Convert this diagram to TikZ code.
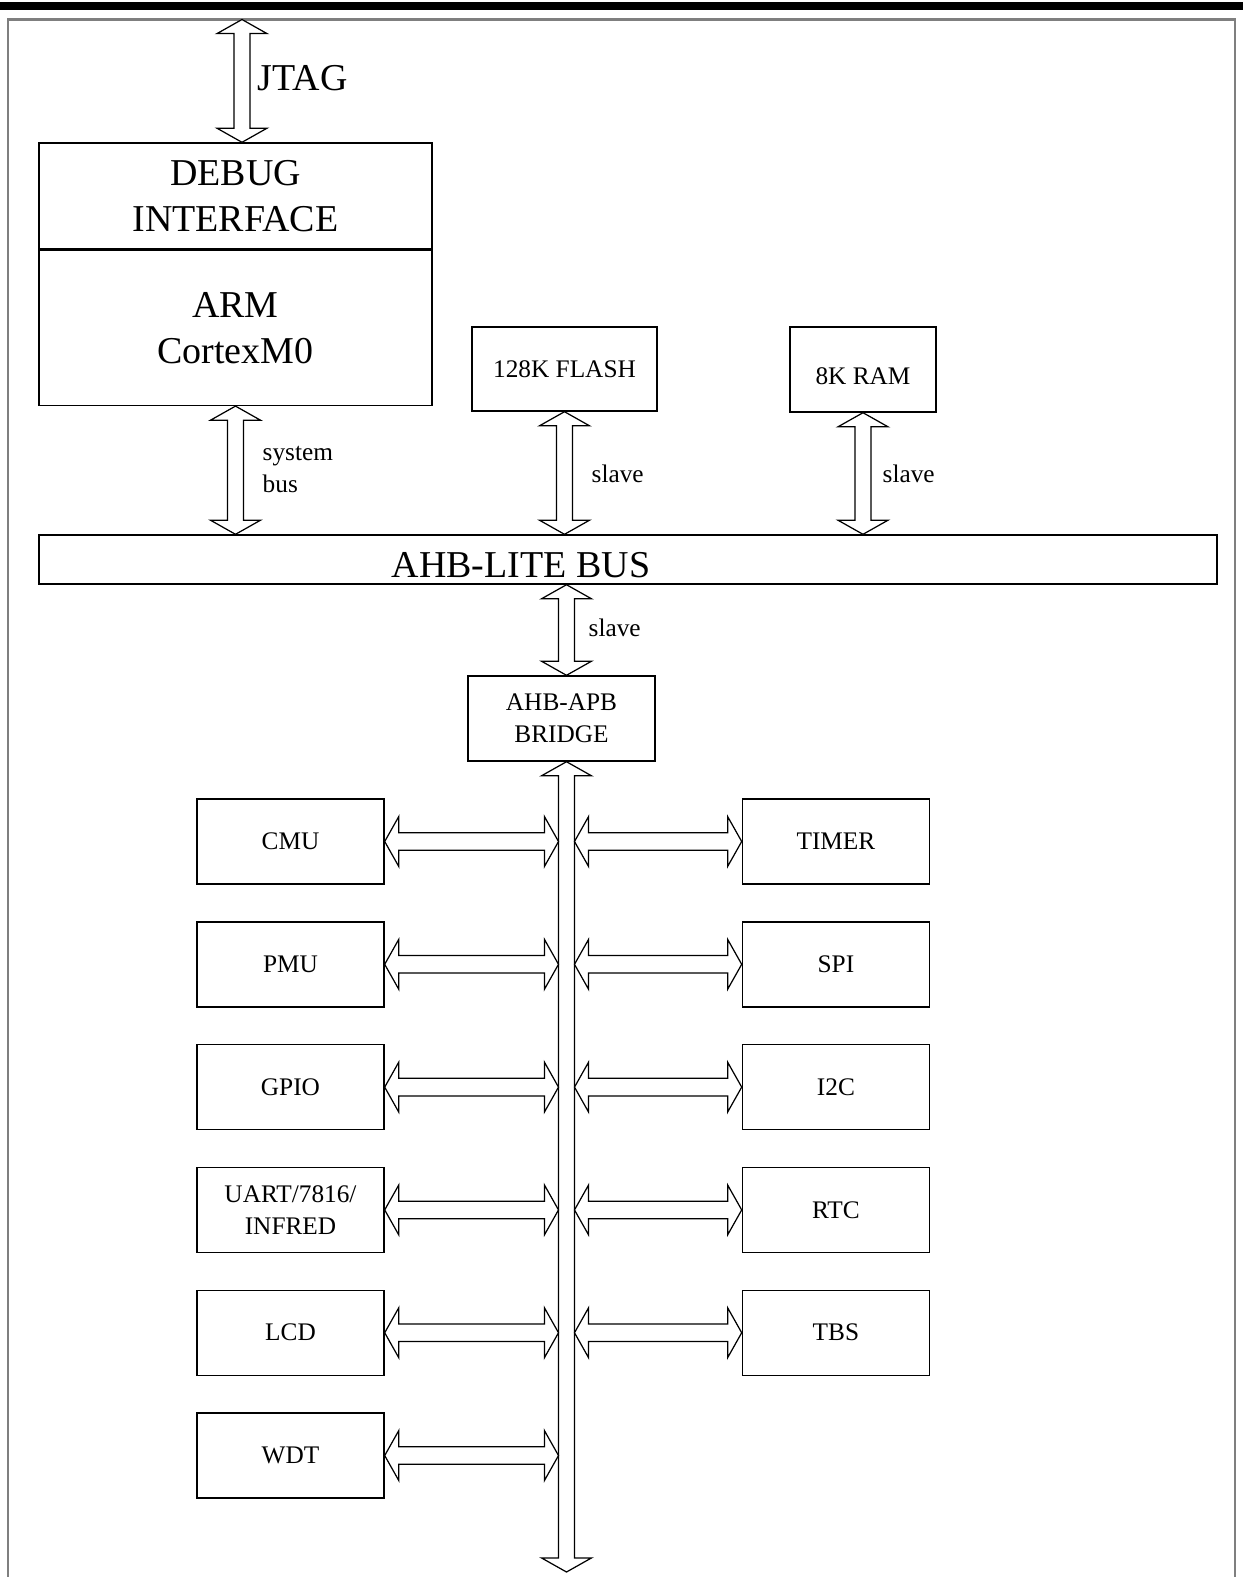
\documentclass[tikz,border=0pt]{standalone}
\usepackage{fontspec}
\setmainfont{Liberation Serif}
\usepackage{xcolor}
\usepackage{tikz}
\usetikzlibrary{calc, positioning}
\tikzset{>=stealth}
\definecolor{framegray}{HTML}{7F7F7F}
\newcommand{\arrhw}{7.1pt}
\newcommand{\arrhl}{4pt}
\newcommand{\arrsv}{2.3pt}
\newcommand{\arrsh}{2.5pt}
\newcommand{\vbus}[2]{\draw[bus] let \p1=(#1), \p2=(#2) in
	(\x1,\y1) -- (\x1+\arrhw,\y1-\arrhl) -- (\x1+\arrsv,\y1-\arrhl) -- (\x1+\arrsv,\y2+\arrhl) -- (\x1+\arrhw,\y2+\arrhl) -- (\x1,\y2)
	-- (\x1-\arrhw,\y2+\arrhl) -- (\x1-\arrsv,\y2+\arrhl) -- (\x1-\arrsv,\y1-\arrhl) -- (\x1-\arrhw,\y1-\arrhl) -- cycle;}
\newcommand{\hbus}[2]{\draw[bus] let \p1=(#1), \p2=(#2) in
	(\x1,\y1) -- (\x1+\arrhl,\y1+\arrhw) -- (\x1+\arrhl,\y1+\arrsh) -- (\x2-\arrhl,\y1+\arrsh) -- (\x2-\arrhl,\y1+\arrhw) -- (\x2,\y1)
	-- (\x2-\arrhl,\y1-\arrhw) -- (\x2-\arrhl,\y1-\arrsh) -- (\x1+\arrhl,\y1-\arrsh) -- (\x1+\arrhl,\y1-\arrhw) -- cycle;}
\tikzset{
	blk/.style={draw, rectangle, inner sep=0pt, align=center, line width=0.4pt},
	per/.style={blk, smalltxt, minimum width=1.87cm, minimum height=0.85cm},
	bigtxt/.style={font=\fontsize{10.8}{13}\selectfont},
	smalltxt/.style={font=\fontsize{7.2}{9.1}\selectfont},
	busname/.style={smalltxt, anchor=west, inner sep=0pt, align=left},
	bus/.style={draw, fill=white, line width=0.35pt},
}

\begin{document}
\begin{tikzpicture}[x=0.1mm, y=-0.1mm]
				\useasboundingbox (0,0) rectangle (1243,1577);
				\fill (0,2) rectangle (1243,10);
				\draw [framegray, line width=0.6pt] (8,1577) -- (8,19.5) -- (1235,19.5) -- (1235,1577);
				\coordinate (jtag) at (242,19.5);
				\coordinate (apbx) at (566.5,1572);
				\coordinate (apbl) at (558.5,0);
				\coordinate (apbr) at (574.5,0);
				\node[blk, bigtxt, minimum width=3.93cm, minimum height=1.06cm] (dbg) at (235.5,196) {DEBUG\\INTERFACE};
				\node[blk, bigtxt, minimum width=3.93cm, minimum height=1.55cm, below=0pt of dbg] (cpu) {ARM\\CortexM0};
				\node[blk, smalltxt, minimum width=1.85cm, minimum height=0.84cm] (flash) at (564.5,369) {128K FLASH};
				\node[blk, smalltxt, minimum width=1.46cm, minimum height=0.85cm, text height=8.5pt, text depth=0pt] (ram) at (863,369.5) {8K RAM};
				\node[blk, minimum width=11.78cm, minimum height=0.49cm] (ahb) at (628,559.5) {};
				\node[bigtxt] (ahbname) at (521,565) {AHB-LITE BUS};
				\node[blk, smalltxt, minimum width=1.87cm, minimum height=0.85cm] (bridge) at (561.5,718.5) {AHB-APB\\BRIDGE};
				\node[per] (cmu) at (290.5,841.5) {CMU};
				\node[per, below=3.64mm of cmu] (pmu) {PMU};
				\node[per, below=3.64mm of pmu] (gpio) {GPIO};
				\node[per, below=3.64mm of gpio] (uart) {UART/7816/\\INFRED};
				\node[per, below=3.64mm of uart] (lcd) {LCD};
				\node[per, below=3.64mm of lcd] (wdt) {WDT};
				\node[per, right=35.7mm of cmu] (timer) {TIMER};
				\node[per, right=35.7mm of pmu] (spi) {SPI};
				\node[per, right=35.7mm of gpio] (iic) {I2C};
				\node[per, right=35.7mm of uart] (rtc) {RTC};
				\node[per, right=35.7mm of lcd] (tbs) {TBS};
				\node[bigtxt, anchor=base west, inner sep=0pt] (jtagname) at (257,90) {JTAG};
				\node[busname] (sysname) at (262,469) {system\\bus};
				\node[busname] (flashname) at (591,474) {slave};
				\node[busname] (ramname) at (882,474) {slave};
				\node[busname] (bridgename) at (588,628) {slave};
				\vbus{jtag}{jtag |- dbg.north}
				\vbus{cpu.south}{ahb.north}
				\vbus{flash.south}{flash.south |- ahb.north}
				\vbus{ram.south}{ram.south |- ahb.north}
				\vbus{ahb.south -| apbx}{bridge.north -| apbx}
				\vbus{bridge.south -| apbx}{apbx}
				\foreach \nm in {cmu,pmu,gpio,uart,lcd,wdt} \hbus{\nm.east}{\nm.east -| apbl};
				\foreach \nm in {timer,spi,iic,rtc,tbs} \hbus{\nm.west -| apbr}{\nm.west};
			\end{tikzpicture}
\end{document}
